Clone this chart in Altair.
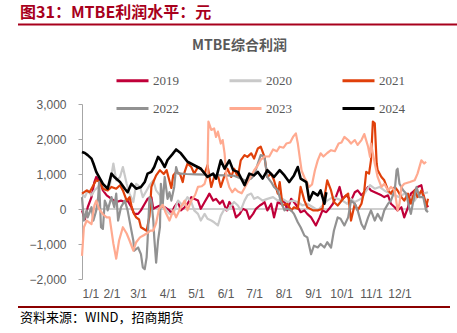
import altair as alt
import pandas as pd

years = ["2019", "2020", "2021", "2022", "2023", "2024"]
colors = ["#C00039", "#C9C9C9", "#E0400A", "#929292", "#FFAA90", "#000000"]

d2019 = [0,3,6,10,13,15,19,22,26,31,36,41,45,48,52,55,59,62,66,69,73,75,78,82,87,92,94,97,101,104,108,111,115,118,122,125,129,132,134,138,141,145,148,152,155,159,162,166,169,173,176,180,183,187,190,192,195,199,202,206,209,213,216,220,223,227,230,234,237,241,246,250,253,257,260,264,267,271,274,278,280,283,287,290,294,297,301,304,308,311,315,318,322,325,329,332,336,339,343,346,350,353,357,360,364]
v2019 = [-40,-300,50,340,770,915,770,530,390,290,200,240,200,240,50,-140,-140,-40,150,290,340,5,50,100,50,-40,-140,50,200,-40,50,150,340,290,240,5,200,340,440,240,290,150,240,-40,200,50,-240,-140,5,-40,-280,-140,5,100,150,200,-40,150,-240,200,150,240,-40,290,200,50,-90,-40,-140,-240,-470,-240,-40,-90,5,150,340,630,290,390,340,240,480,530,390,480,630,530,480,440,390,340,390,150,50,-40,50,-240,50,440,530,630,680,290,50]

d2020 = [0,3,6,10,13,17,20,24,29,33,36,40,43,47,50,54,57,61,64,68,71,75,78,82,85,89,92,96,101,106,111,115,118,122,125,129,132,136,139,143,146,150,153,157,160,164,167,171,174,178,181,185,190,195,201,206,211,216,222,227,232,237,243,248,253,258,264,269,274,279,283,287,290,294,297,303,308,313,318,324,329,334,339,345,350,353,359,364]
v2020 = [440,340,530,390,530,630,820,530,630,1300,820,915,1200,720,440,200,720,630,340,530,680,820,530,390,100,-40,-140,-140,240,100,340,200,-40,-140,-330,-140,-280,-330,-380,-470,-190,5,-40,100,200,100,-40,240,390,440,290,340,240,290,340,240,290,200,240,200,100,150,50,-40,100,240,340,290,240,150,290,200,240,300,440,680,580,630,530,440,390,340,440,340,240,390,440,480]

d2021 = [0,5,8,12,15,19,22,27,31,36,40,43,47,50,52,54,57,60,62,65,68,71,73,75,78,82,86,89,92,94,96,99,103,106,108,111,115,118,122,125,129,132,136,139,143,146,150,153,157,160,164,167,171,174,178,181,185,188,192,195,199,202,206,208,211,216,220,223,227,230,234,237,243,248,253,258,262,265,269,272,276,280,283,287,290,294,297,299,302,304,306,308,310,311,315,318,322,325,329,332,336,339,343,346,350,353,357,360,362,364]
v2021 = [440,530,480,680,820,770,580,530,630,580,680,530,240,340,100,-100,-240,-300,-520,-570,-620,-200,630,770,960,1110,1000,1110,800,600,960,1060,1010,770,1060,1300,1200,1010,1200,1150,1010,1250,630,915,960,630,960,1150,915,1150,915,1390,1540,1490,1590,1440,1730,1780,1490,915,1010,820,440,770,100,150,-40,50,5,630,240,50,-40,-40,5,820,530,200,100,200,340,440,-330,150,-40,150,530,1060,1010,1390,2500,2450,1300,1110,915,820,530,440,630,530,340,240,440,150,530,340,530,340,50,290]

d2022 = [0,2,5,6,10,12,15,17,18,20,22,24,26,27,31,34,36,38,41,45,48,52,54,55,59,62,64,66,68,69,71,73,75,76,78,80,82,83,85,87,90,92,94,97,99,101,104,110,120,130,140,150,160,167,171,174,178,181,185,188,192,195,199,202,206,209,213,216,220,223,227,230,234,237,241,244,248,251,255,258,262,265,269,272,276,280,283,287,290,294,297,301,304,308,311,315,318,322,325,329,331,332,334,338,341,345,346,348,352,355,359,362,364]
v2022 = [340,-330,-40,-240,50,-330,-40,340,770,-520,-570,240,100,-40,340,50,440,-330,50,240,-40,-620,-900,-1190,-1100,-1290,-1670,-1720,-1380,-900,340,240,-330,-810,-1530,-900,-520,720,150,915,290,480,240,630,1200,1010,1010,1000,990,980,970,960,950,870,820,820,870,960,1300,1540,1490,915,770,630,530,240,-40,5,-40,-140,-380,-520,-760,-810,-1290,-1050,-1100,-1000,-1100,-950,-1100,-620,-240,-280,-470,-240,240,150,-40,-430,-570,-240,-40,-330,-140,-330,-40,150,240,530,1110,1150,720,530,440,-40,-140,150,630,340,340,-40,-90]

d2023 = [0,2,5,10,13,15,18,22,26,29,33,36,39,43,47,50,54,57,61,65,68,72,75,78,81,85,88,92,96,99,104,108,111,115,119,122,126,129,132,133,136,139,141,143,146,148,150,152,155,158,161,164,168,171,175,178,181,185,188,192,197,201,205,208,212,215,219,222,225,227,229,231,234,237,239,242,245,248,251,254,258,262,266,270,273,276,280,283,287,290,294,297,301,303,304,306,308,311,315,318,322,325,329,332,334,336,339,345,350,353,357,360,362]
v2023 = [-1340,-520,-330,-430,100,240,0,-150,-240,-240,-990,-1420,-900,-520,-700,-900,-1190,-950,-810,-750,-700,-620,-620,-400,0,120,-100,-330,-40,-240,50,240,-40,240,400,630,650,720,1010,2500,2260,2300,2060,2210,1870,1970,1590,900,620,480,580,500,450,600,800,950,1100,1250,1400,1500,1500,1700,1650,1780,1750,1870,1900,2060,2160,1880,1490,1100,900,750,630,700,1100,1390,1590,1500,1600,1680,1650,1870,1900,2060,1970,1870,1970,1830,1970,2140,1780,1490,1870,1590,1300,915,630,720,530,630,530,-40,150,630,720,770,820,1010,1390,1300,1350]

d2024 = [0,3,6,10,12,15,17,22,27,31,34,40,45,48,52,57,62,66,69,73,76,80,83,87,90,95,99,104,111,118,125,132,138,141,146,150,155,159,164,171,176,181,185,190,195,202,208,213,218,223,227,230,236,239,243,248,251,255,257]
v2024 = [1630,1600,1540,1440,1300,1060,960,720,580,1010,915,770,580,480,720,580,630,770,1010,1060,1200,1490,1390,1200,1400,1560,1700,1590,1350,1250,1150,915,1010,870,1390,1150,1390,1110,1060,680,1010,960,1060,870,1110,915,1110,960,770,960,1200,870,770,245,480,390,530,150,480]

month_days = [0, 31, 59, 90, 120, 151, 181, 212, 243, 273, 304, 334]
month_labels = ["1/1", "2/1", "3/1", "4/1", "5/1", "6/1", "7/1", "8/1", "9/1", "10/1", "11/1", "12/1"]
y_ticks = [-2000, -1000, 0, 1000, 2000, 3000]

header_text = "图31：MTBE利润水平：元"
chart_title = "MTBE综合利润"
source_text = "资料来源：WIND，招商期货"

all_days = [d2019, d2020, d2021, d2022, d2023, d2024]
all_vals = [v2019, v2020, v2021, v2022, v2023, v2024]

frames = []
for yr, ds, vs in zip(years, all_days, all_vals):
    frames.append(pd.DataFrame({"year": yr, "day": ds, "value": vs}))

# layout (pixels)
PL, PT = 82, 104
W, H = 346, 175
TOTAL_W, TOTAL_H = 457, 333

label_expr = "[" + ",".join("'" + s + "'" for s in month_labels) + "][indexof([" + ",".join(str(d) for d in month_days) + "], datum.value)]"

x_enc = alt.X("day:Q",
              scale=alt.Scale(domain=[0, 364], nice=False, zero=False),
              axis=alt.Axis(values=month_days, labelExpr=label_expr, domain=False, ticks=False,
                            grid=False, title=None, labelColor="#595959", labelFontSize=12,
                            labelFont="Liberation Sans", labelPadding=9))
y_enc = alt.Y("value:Q",
              scale=alt.Scale(domain=[-2000, 3000], nice=False),
              axis=alt.Axis(values=y_ticks, format=",.0f", grid=False, title=None,
                            domainColor="#A6A6A6", tickColor="#A6A6A6", tickSize=4,
                            labelPadding=12, labelColor="#595959", labelFontSize=12,
                            labelFont="Liberation Sans"))
color_scale = alt.Scale(domain=years, range=colors)
legend = alt.Legend(orient="none", legendX=33, legendY=-41, columns=3, columnPadding=44,
                    direction="horizontal",
                    rowPadding=3, symbolType="stroke", symbolSize=1024, symbolStrokeWidth=3,
                    labelFont="Liberation Serif", labelFontSize=13, labelColor="#595959",
                    labelOffset=3, title=None, padding=0)

zero_line = alt.Chart(pd.DataFrame({"value": [0]})).mark_rule(color="#A0A0A0", strokeWidth=1.2).encode(
    y=y_enc, x=alt.value(0), x2=alt.value(W))

layers = [zero_line]
for yr, f in zip(years, frames):
    sw = 2.6 if yr == "2024" else 2.2
    layers.append(
        alt.Chart(f).mark_line(strokeWidth=sw, strokeJoin="round").encode(
            x=x_enc, y=y_enc,
            color=alt.Color("year:N", scale=color_scale, legend=legend)))

one = pd.DataFrame({"t": [0]})
header = alt.Chart(pd.DataFrame({"t": [header_text]})).mark_text(
    align="left", baseline="middle", font="Noto Sans CJK SC", fontWeight="bold", fontSize=16,
    color="#A8001C").encode(text="t:N", x=alt.value(20 - PL), y=alt.value(13 - PT))
header_rule = alt.Chart(one).mark_rule(color="#A8001C", strokeWidth=2).encode(
    x=alt.value(18 - PL), x2=alt.value(TOTAL_W - PL), y=alt.value(24.5 - PT))
title = alt.Chart(pd.DataFrame({"t": [chart_title]})).mark_text(
    align="center", baseline="middle", font="Noto Sans CJK SC", fontWeight="bold", fontSize=14,
    color="#595959").encode(text="t:N", x=alt.value(239.5 - PL), y=alt.value(46 - PT))
footer_rule = alt.Chart(one).mark_rule(color="#8B0000", strokeWidth=2).encode(
    x=alt.value(18 - PL), x2=alt.value(450 - PL), y=alt.value(307 - PT))
footer = alt.Chart(pd.DataFrame({"t": [source_text]})).mark_text(
    align="left", baseline="middle", font="Noto Sans CJK SC", fontSize=13,
    color="#000000").encode(text="t:N", x=alt.value(20 - PL), y=alt.value(318 - PT))

chart = alt.layer(*layers, header, header_rule, title, footer_rule, footer).properties(
    width=W, height=H,
    autosize=alt.AutoSizeParams(type="none"),
    padding={"left": PL, "top": PT, "right": TOTAL_W - PL - W, "bottom": TOTAL_H - PT - H},
    background="white",
).configure_view(stroke=None)

chart.save("out.html", embed_options={"renderer": "svg", "actions": False})
